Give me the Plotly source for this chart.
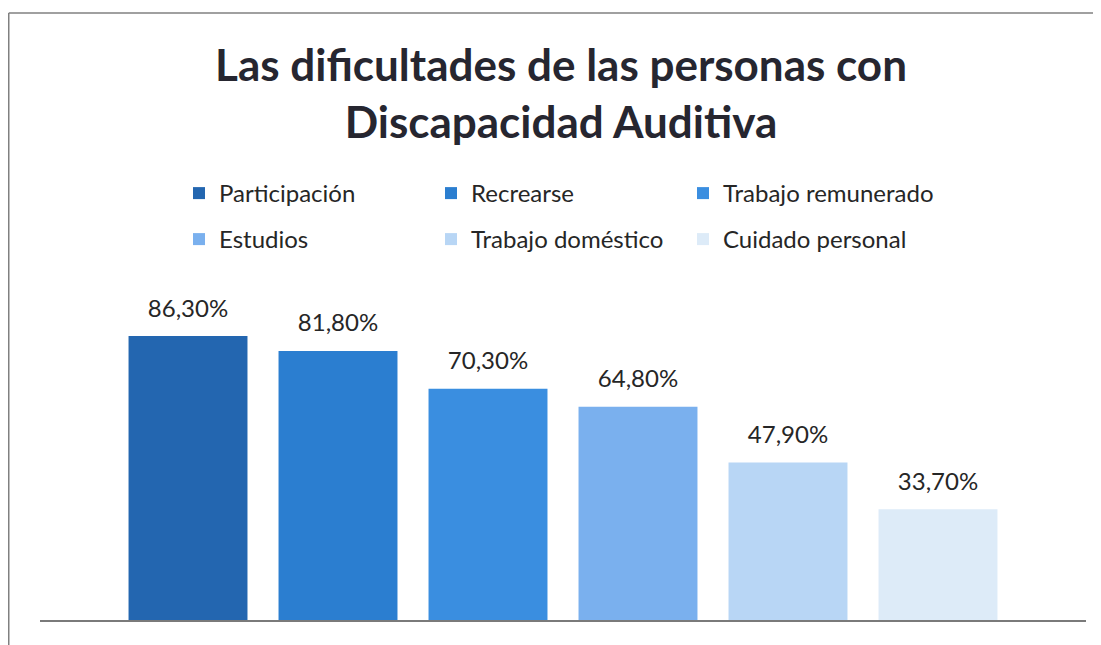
import plotly.graph_objects as go

categories = ["Participación", "Recrearse", "Trabajo remunerado", "Estudios", "Trabajo doméstico", "Cuidado personal"]
values = [86.3, 81.8, 70.3, 64.8, 47.9, 33.7]
colors = ["#2366B0", "#2B7ED0", "#3A8EE0", "#7AB0EE", "#B8D6F5", "#DDEBF8"]

# page has an 8px body margin, so the figure itself is 8px smaller
W, H = 1093, 637
ml, mr, mt, mb = 32, 15, 283, 25
FONT = "Lato"
GAP = 0.1396

fig = go.Figure()
for i, (name, v, c) in enumerate(zip(categories, values, colors)):
    fig.add_trace(go.Bar(
        x=[""], y=[v], name=name,
        marker=dict(color=c, line=dict(width=0)),
        legend="legend" if i < 3 else "legend2",
        hoverinfo="skip",
    ))
for name, v in zip(categories, values):
    fig.add_trace(go.Scatter(
        x=[""], y=[v], name=name, mode="markers+text",
        marker=dict(size=20, color="rgba(0,0,0,0)"),
        texttemplate="%{y:.2f}%", textposition="top center",
        textfont=dict(family=FONT, size=24, color="#262626"),
        showlegend=False, cliponaxis=False, hoverinfo="skip",
    ))

legend_common = dict(
    orientation="h", xref="container", yref="container",
    x=171 / W, xanchor="left", yanchor="top",
    entrywidth=207, entrywidthmode="pixels", itemwidth=30,
    font=dict(family=FONT, size=24, color="#262626"),
    traceorder="normal", bgcolor="rgba(0,0,0,0)",
)

fig.update_layout(
    width=W, height=H,
    margin=dict(l=ml, r=mr, t=mt, b=mb),
    paper_bgcolor="white", plot_bgcolor="white",
    separators=",.",
    barmode="group", bargap=GAP, bargroupgap=0.207,
    scattermode="group", scattergap=GAP,
    title=dict(
        text="<b>Las dificultades de las personas con<br>Discapacidad Auditiva</b>",
        x=553 / W, xanchor="center", xref="container",
        y=1 - 73 / H, yanchor="top", yref="container",
        font=dict(family=FONT, size=44, color="#262630"),
    ),
    legend=dict(legend_common, y=1 - 163 / H),
    legend2=dict(legend_common, y=1 - 209 / H),
    xaxis=dict(showline=True, linecolor="#7a7a7a", linewidth=2,
               showticklabels=False, ticks="", showgrid=False, zeroline=False),
    yaxis=dict(range=[0, 100], visible=False, showgrid=False, zeroline=False),
    shapes=[dict(type="line", xref="paper", yref="paper",
                 x0=(0.75 - ml) / (W - ml - mr), x1=(1120 - ml) / (W - ml - mr),
                 y0=(H - mb - 5) / (H - mt - mb), y1=(H - mb - 5) / (H - mt - mb),
                 line=dict(color="#808080", width=1.5)),
            dict(type="line", xref="paper", yref="paper",
                 x0=(0.75 - ml) / (W - ml - mr), x1=(0.75 - ml) / (W - ml - mr),
                 y0=(H - mb - 5) / (H - mt - mb), y1=(H - mb - 660) / (H - mt - mb),
                 line=dict(color="#808080", width=1.5))],
)

fig.write_html("out.html")
